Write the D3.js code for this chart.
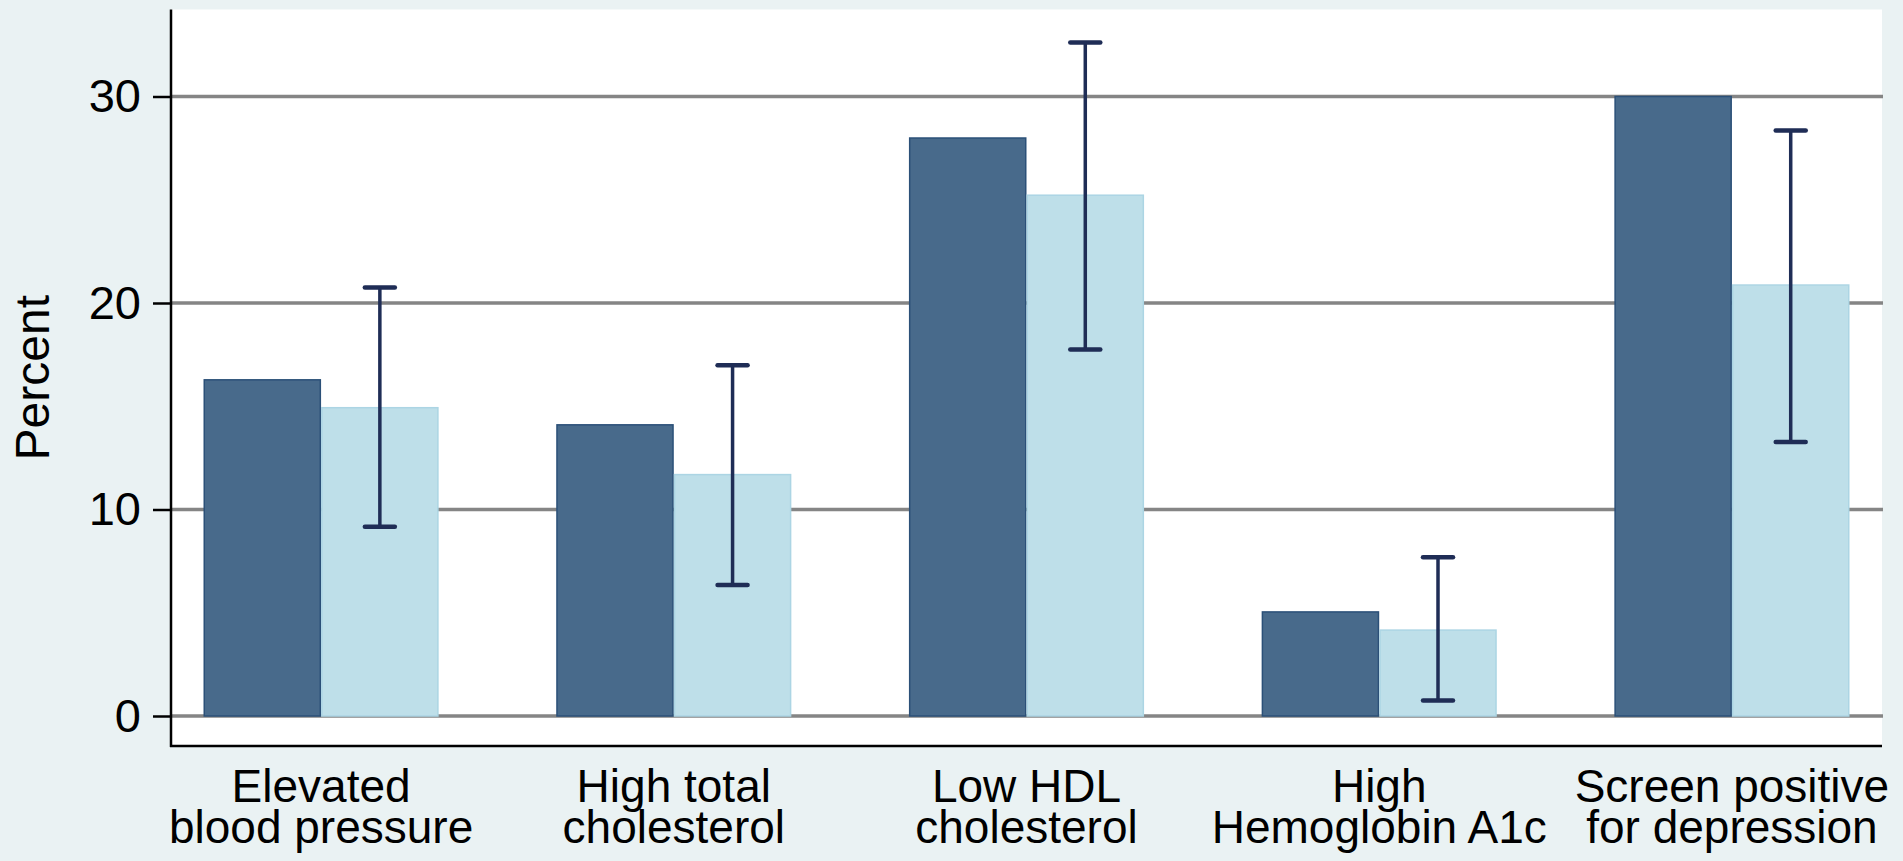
<!DOCTYPE html>
<html>
<head>
<meta charset="utf-8">
<script src="https://cdn.jsdelivr.net/npm/d3@7/dist/d3.min.js"></script>
<style>
  html, body { margin: 0; padding: 0; background: #eaf2f3; }
  svg { display: block; }
  text { font-family: "Liberation Sans", Arial, sans-serif; fill: #000; }
</style>
</head>
<body>
<svg id="chart" width="1903" height="861"></svg>
<script>
// Outcome categories (two-line labels)
const categories = [
  "Elevated blood pressure",
  "High total cholesterol",
  "Low HDL cholesterol",
  "High Hemoglobin A1c",
  "Screen positive for depression"
];
const categoryLines = [
  ["Elevated", "blood pressure"],
  ["High total", "cholesterol"],
  ["Low HDL", "cholesterol"],
  ["High", "Hemoglobin A1c"],
  ["Screen positive", "for depression"]
];

// Percent for each group
const referenceValues = [16.28, 14.10, 27.99, 5.04, 30.0];
const sampleValues    = [14.93, 11.69, 25.22, 4.16, 20.87];

// 95% confidence interval around the sample estimate
const ciLow  = [9.16, 6.34, 17.75, 0.75, 13.27];
const ciHigh = [20.75, 16.99, 32.62, 7.69, 28.35];

// Y-axis ticks
const yTicks = [0, 10, 20, 30];
const yTitle = "Percent";

const seriesKeys = ["reference", "sample"];

const rows = categories.map((c, i) => ({
  category: c,
  lines: categoryLines[i],
  reference: referenceValues[i],
  sample: sampleValues[i],
  lo: ciLow[i],
  hi: ciHigh[i]
}));

const svg = d3.select("#chart");

// Plot region
const plot = { left: 171, right: 1882, top: 9.5, bottom: 746 };
const barInset = 32.5;

const y = d3.scaleLinear()
  .domain([0, 30])
  .range([716, 96.5]);

const x0 = d3.scaleBand()
  .domain(categories)
  .range([plot.left + barInset, plot.right - barInset])
  .paddingInner(1 / 3)
  .paddingOuter(0);

const x1 = d3.scaleBand()
  .domain(seriesKeys)
  .range([0, x0.bandwidth()])
  .padding(0);

const fills   = { reference: "#486a8b", sample: "#bedfe9" };
const strokes = { reference: "#2b5078", sample: "#acd5e4" };

// White plot background
svg.append("rect")
  .attr("x", plot.left)
  .attr("y", plot.top)
  .attr("width", plot.right - plot.left)
  .attr("height", plot.bottom - plot.top)
  .attr("fill", "#ffffff");

// Horizontal grid lines
svg.append("g")
  .selectAll("line")
  .data(yTicks)
  .join("line")
  .attr("x1", plot.left)
  .attr("x2", plot.right + 1)
  .attr("y1", d => y(d))
  .attr("y2", d => y(d))
  .attr("stroke", "#858585")
  .attr("stroke-width", 3.5);

// Bars
const groups = svg.append("g")
  .selectAll("g")
  .data(rows)
  .join("g")
  .attr("transform", d => `translate(${x0(d.category)},0)`);

groups.selectAll("rect")
  .data(d => seriesKeys.map(k => ({ key: k, value: d[k] })))
  .join("rect")
  .attr("x", d => x1(d.key) + 0.75)
  .attr("width", x1.bandwidth() - 1.5)
  .attr("y", d => y(d.value))
  .attr("height", d => y(0) - y(d.value))
  .attr("fill", d => fills[d.key])
  .attr("stroke", d => strokes[d.key])
  .attr("stroke-width", 1.5);

// Confidence-interval whiskers on the sample bars
const capHalf = 15;
const ci = svg.append("g")
  .attr("stroke", "#1f2d56")
  .attr("fill", "none");

rows.forEach(d => {
  const cx = x0(d.category) + x1("sample") + x1.bandwidth() / 2;
  ci.append("line")
    .attr("x1", cx).attr("x2", cx)
    .attr("y1", y(d.hi)).attr("y2", y(d.lo))
    .attr("stroke-width", 3.5);
  [d.hi, d.lo].forEach(v => {
    ci.append("line")
      .attr("x1", cx - capHalf).attr("x2", cx + capHalf)
      .attr("y1", y(v)).attr("y2", y(v))
      .attr("stroke-width", 4.5)
      .attr("stroke-linecap", "round");
  });
});

// Y axis
const yAxis = svg.append("g")
  .attr("transform", `translate(${plot.left},0)`)
  .call(d3.axisLeft(y).tickValues(yTicks).tickSize(18).tickPadding(12).tickFormat(d3.format("d")));
yAxis.select(".domain").remove();
yAxis.selectAll(".tick line").attr("stroke", "#000").attr("stroke-width", 2.5);
yAxis.selectAll(".tick text")
  .style("font-family", "'Liberation Sans', Arial, sans-serif")
  .style("font-size", "47px")
  .attr("fill", "#000");

svg.append("line")
  .attr("x1", plot.left).attr("x2", plot.left)
  .attr("y1", plot.top).attr("y2", plot.bottom + 1)
  .attr("stroke", "#000").attr("stroke-width", 2.5);

// X axis with two-line category labels
const xAxis = svg.append("g")
  .attr("transform", `translate(0,${plot.bottom})`)
  .call(d3.axisBottom(x0).tickSize(0).tickPadding(0));
xAxis.select(".domain").remove();
xAxis.selectAll(".tick text").each(function (c) {
  const t = d3.select(this);
  const lines = categoryLines[categories.indexOf(c)];
  t.text(null)
    .attr("y", 0)
    .attr("dy", null)
    .style("font-family", "'Liberation Sans', Arial, sans-serif")
    .style("font-size", "46px")
    .attr("fill", "#000");
  lines.forEach((line, i) => {
    t.append("tspan")
      .attr("x", 0)
      .attr("y", 56 + i * 41)
      .text(line);
  });
});

svg.append("line")
  .attr("x1", plot.left - 1).attr("x2", plot.right)
  .attr("y1", plot.bottom).attr("y2", plot.bottom)
  .attr("stroke", "#000").attr("stroke-width", 2.5);

// Y-axis title
svg.append("text")
  .attr("transform", `translate(49,${(plot.top + plot.bottom) / 2}) rotate(-90)`)
  .attr("text-anchor", "middle")
  .style("font-size", "48px")
  .text(yTitle);
</script>
</body>
</html>
